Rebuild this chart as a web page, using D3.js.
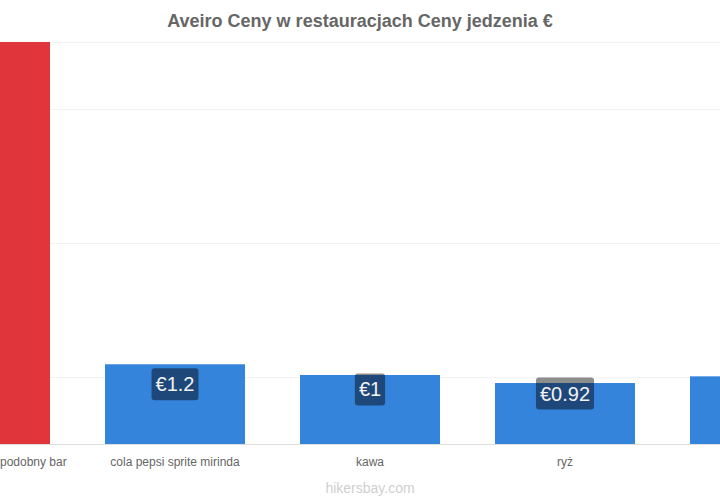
<!DOCTYPE html>
<html>
<head>
<meta charset="utf-8">
<script src="https://cdn.jsdelivr.net/npm/d3@7/dist/d3.min.js"></script>
<style>
  html, body { margin: 0; padding: 0; background: #fff; }
  svg { display: block; font-family: "Liberation Sans", Arial, sans-serif; }
</style>
</head>
<body>
<svg id="chart" width="720" height="500"></svg>
<script>
const title = "Aveiro Ceny w restauracjach Ceny jedzenia €";
const categories = ["Zestaw McMeal lub podobny bar", "cola pepsi sprite mirinda", "kawa", "ryż", "woda 0,33 l"];
const values = [6.0, 1.19, 1.03, 0.91, 1.01];
const valueLabels = ["€6", "€1.2", "€1", "€0.92", "€1"];
const gridValues = [1, 3, 5, 6];
const colors = ["#e0353a", "#3584dc", "#3584dc", "#3584dc", "#3584dc"];

const svg = d3.select("#chart");
const W = 720, H = 500;
const baseY = 444, topY = 42;

const x = d3.scaleBand().domain(categories).range([-117.5, 857.5]).paddingInner(0.282).paddingOuter(0.141);
const y = d3.scaleLinear().domain([0, 6]).range([baseY, topY]);

// title
svg.append("text").attr("x", W / 2).attr("y", 27).attr("text-anchor", "middle")
  .attr("font-size", 18).attr("font-weight", "bold").attr("fill", "#666").text(title);

// gridlines
svg.append("g").selectAll("line").data(gridValues).join("line")
  .attr("x1", 0).attr("x2", W).attr("y1", d => y(d) + 0.5).attr("y2", d => y(d) + 0.5)
  .attr("stroke", "#f3f3f3").attr("stroke-width", 1);

// bars
svg.append("g").selectAll("rect").data(categories).join("rect")
  .attr("x", d => x(d)).attr("width", x.bandwidth())
  .attr("y", (d, i) => y(values[i])).attr("height", (d, i) => baseY - y(values[i]))
  .attr("fill", (d, i) => colors[i]);

// x axis
const xAxis = svg.append("g").attr("transform", `translate(0,${baseY})`)
  .call(d3.axisBottom(x).tickSize(0).tickPadding(13));
xAxis.select(".domain").remove();
xAxis.append("line").attr("x1", 0).attr("x2", W).attr("y1", 0.5).attr("y2", 0.5).attr("stroke", "#ddd");
xAxis.selectAll("text").attr("font-size", 12).attr("fill", "#666").attr("font-family", "Liberation Sans, Arial, sans-serif");

// value labels
const lab = svg.append("g").selectAll("g").data(categories).join("g")
  .attr("transform", (d, i) => `translate(${x(d) + x.bandwidth() / 2},${(y(values[i]) + baseY) / 2 - 20})`);
lab.append("text").attr("text-anchor", "middle").attr("dy", "0.35em")
  .attr("font-size", 20).attr("fill", "#f2f2f2").text((d, i) => valueLabels[i]);
lab.each(function () {
  const g = d3.select(this);
  const bb = g.select("text").node().getBBox();
  g.insert("rect", "text").attr("x", bb.x - 4).attr("y", -16).attr("width", bb.width + 8).attr("height", 32)
    .attr("rx", 3).attr("fill", "rgba(0,0,0,0.45)");
});

// watermark
svg.append("text").attr("x", 370).attr("y", 493).attr("text-anchor", "middle")
  .attr("font-size", 14).attr("fill", "#cfcfcf").text("hikersbay.com");
</script>
</body>
</html>
